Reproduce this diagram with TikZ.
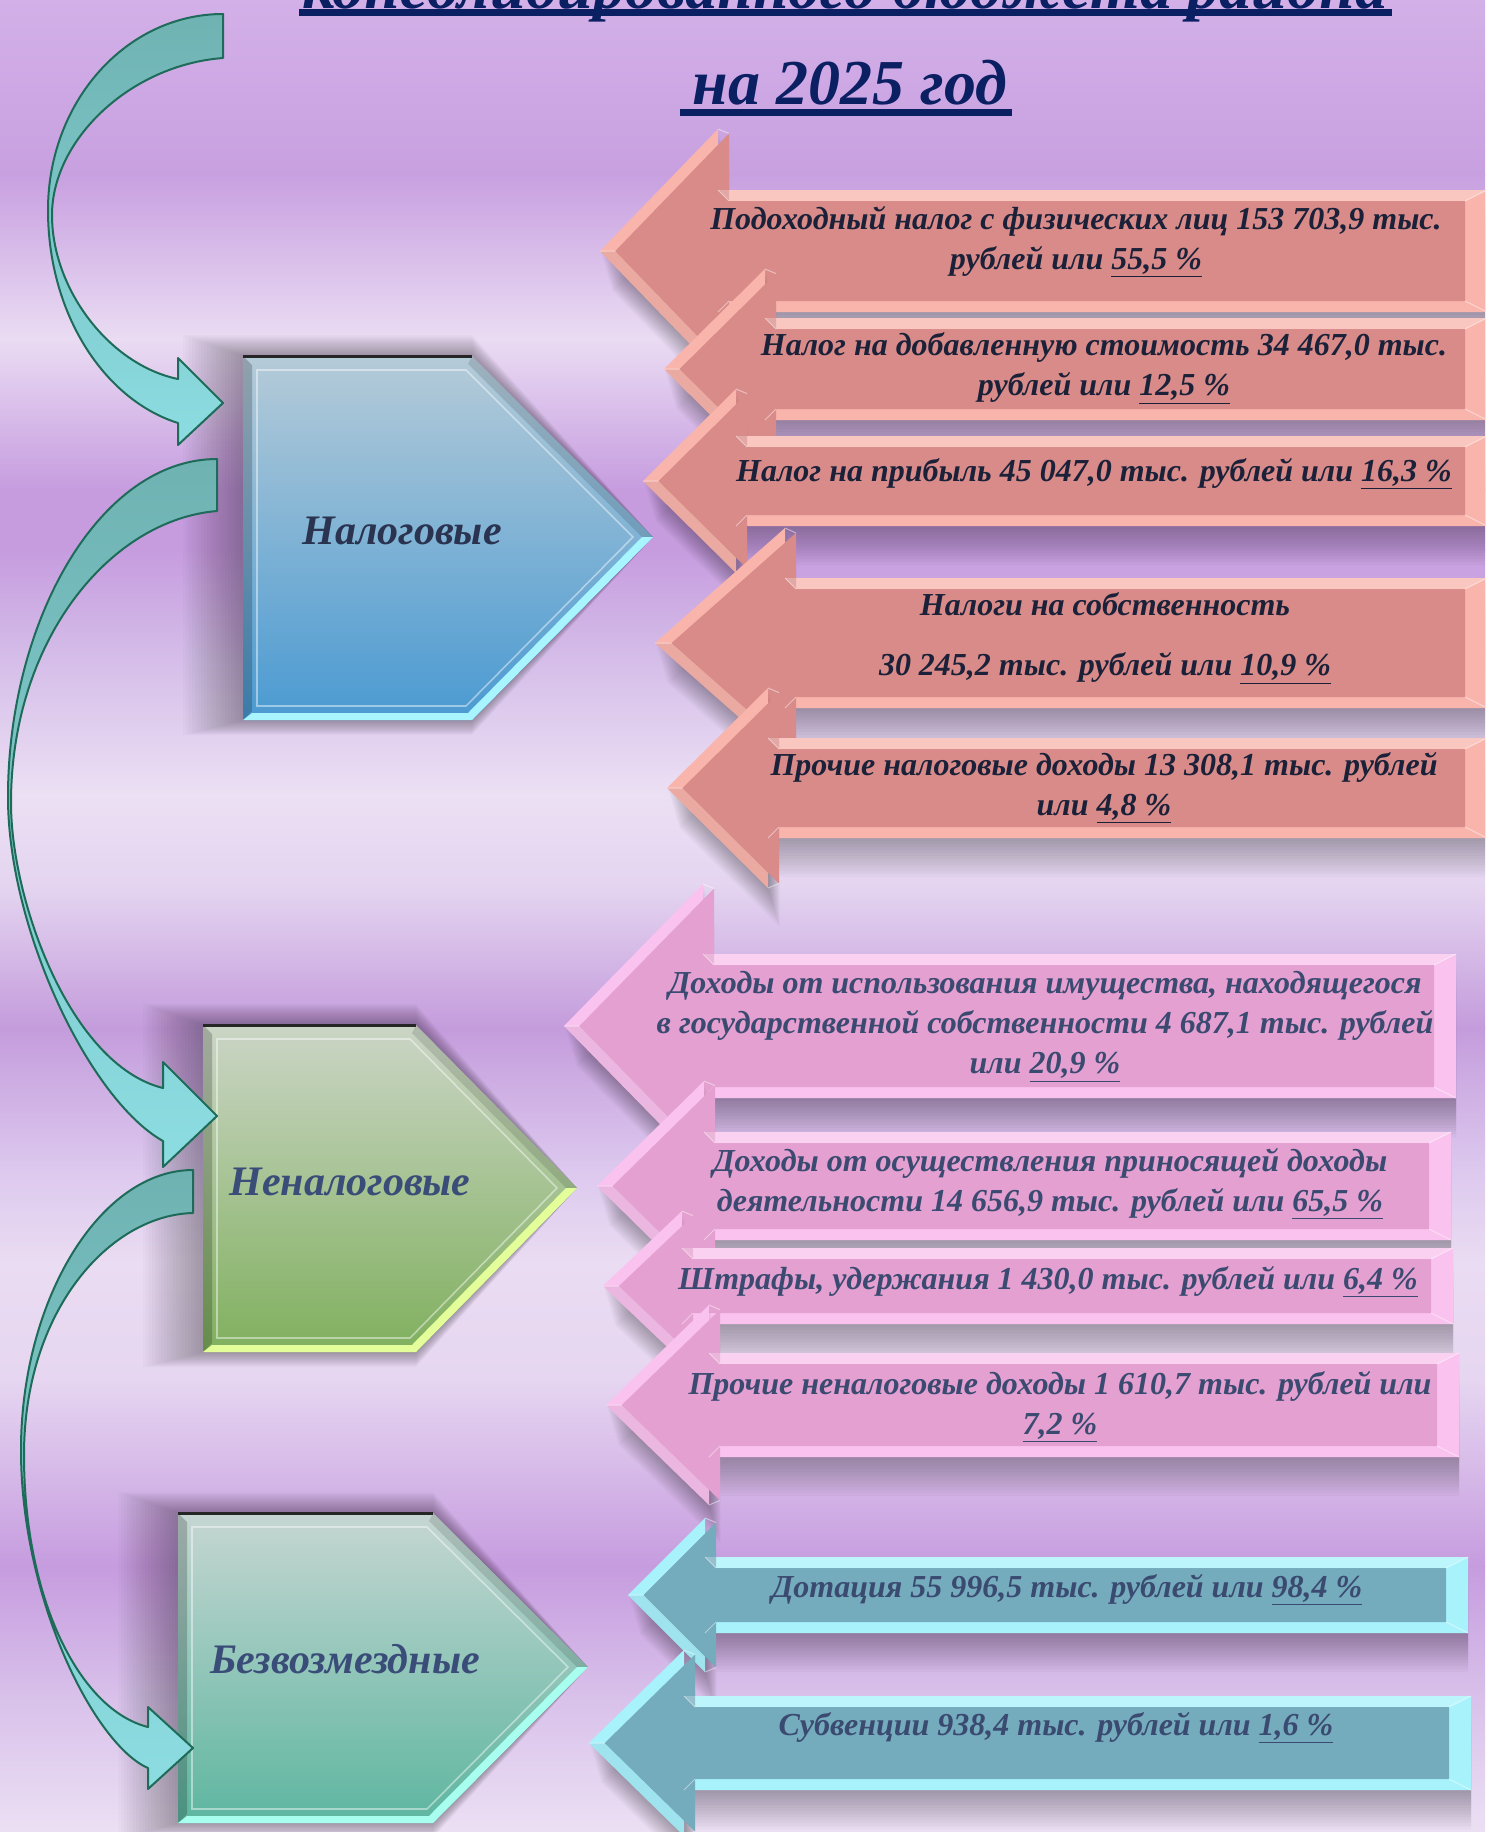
\documentclass[tikz,border=0pt]{standalone}
\usepackage{fontspec}
\setmainfont{Liberation Serif}
\definecolor{bg0}{HTML}{D3B0E8}
\definecolor{bg1}{HTML}{C8A0E0}
\definecolor{bg2}{HTML}{EADCF3}
\definecolor{bg3}{HTML}{C69CDF}
\definecolor{bg4}{HTML}{C69CDF}
\definecolor{bg5}{HTML}{D4BCE8}
\definecolor{bg6}{HTML}{ECE0F4}
\definecolor{bg7}{HTML}{E4D4F0}
\definecolor{bg8}{HTML}{C49CDC}
\definecolor{bg9}{HTML}{DCC8EE}
\definecolor{bg10}{HTML}{EADCF2}
\definecolor{bg11}{HTML}{E6D6F1}
\definecolor{bg12}{HTML}{C69CDF}
\definecolor{bg13}{HTML}{D8C0EA}
\definecolor{bg14}{HTML}{ECE0F4}
\definecolor{salLight}{HTML}{F9B4AC}
\definecolor{salMain}{HTML}{D98B89}
\definecolor{pinkLight}{HTML}{FAC2EE}
\definecolor{pinkMain}{HTML}{E4A0D0}
\definecolor{cyLight}{HTML}{A8F2FC}
\definecolor{cyMain}{HTML}{74ABBD}
\definecolor{textA}{HTML}{1B2138}
\definecolor{textB}{HTML}{3A4A70}
\definecolor{navy}{HTML}{0B1F63}
\definecolor{tealA}{HTML}{6FB2B2}
\definecolor{tealB}{HTML}{5A9A9C}
\definecolor{tealC}{HTML}{8CDDE2}
\definecolor{tealEdge}{HTML}{1F6B5A}
\definecolor{blueTop}{HTML}{B5CBD8}
\definecolor{blueBot}{HTML}{4A9AD2}
\definecolor{blueLight}{HTML}{A8F4FF}
\definecolor{greenTop}{HTML}{CBD5C6}
\definecolor{greenBot}{HTML}{80B05E}
\definecolor{greenLight}{HTML}{E4FF9A}
\definecolor{tqTop}{HTML}{C6D6D2}
\definecolor{tqBot}{HTML}{5DB6A0}
\definecolor{tqLight}{HTML}{A8FFF0}
\definecolor{lblA}{HTML}{2A3350}
\definecolor{lblB}{HTML}{3A4C78}

\tikzset{
  arrtext/.style={align=center, inner sep=0pt, font=\fontsize{16}{20}\selectfont\bfseries\itshape},
  titletext/.style={anchor=base, inner sep=0pt, text=navy, font=\fontsize{32}{38}\selectfont\bfseries\itshape},
  lbltext/.style={inner sep=0pt, font=\fontsize{21}{25}\selectfont\bfseries\itshape},
  curvarrow/.style={top color=tealA, middle color=tealB, bottom color=tealC, draw=tealEdge, line width=1pt, line join=round}
}

\newcommand\BAbevel{11}
% #1 tip x, #2 centre y, #3 head base x, #4 head half height, #5 body half height, #6 right x, #7 light, #8 main
\newcommand\blockarrow[8]{%
  \pgfmathsetmacro\BAk{#4/(#3-#1)}%
  \pgfmathsetmacro\BAs{sin(atan(\BAk))}%
  \pgfmathsetmacro\BAitx{#1+\BAbevel/\BAs}%
  \pgfmathsetmacro\BAihx{#3+\BAbevel}%
  \pgfmathsetmacro\BAihh{(\BAihx-\BAitx)*\BAk}%
  \pgfmathsetmacro\BAibh{#5-\BAbevel}%
  \pgfmathsetmacro\BAirx{#6-2*\BAbevel}%
  \foreach \BAo in {3,6,...,39}{%
    \fill[black,opacity=0.022] (#1+\BAo*0.3,#2+\BAo) -- (#3+\BAo*0.3,#2-#4+\BAo) -- (#3+\BAo*0.3,#2-#5+\BAo) -- (#6,#2-#5+\BAo) -- (#6,#2+#5+\BAo) -- (#3+\BAo*0.3,#2+#5+\BAo) -- (#3+\BAo*0.3,#2+#4+\BAo) -- cycle;}%
  \fill[#7] (#1,#2) -- (#3,#2-#4) -- (#3,#2-#5) -- (#6,#2-#5) -- (#6,#2+#5) -- (#3,#2+#5) -- (#3,#2+#4) -- cycle;
  \fill[#8] (\BAitx,#2) -- (\BAihx,#2-\BAihh) -- (\BAihx,#2-\BAibh) -- (\BAirx,#2-\BAibh) -- (\BAirx,#2+\BAibh) -- (\BAihx,#2+\BAibh) -- (\BAihx,#2+\BAihh) -- cycle;
  \fill[white,opacity=0.25] (#3,#2-#5) -- (#6,#2-#5) -- (\BAirx,#2-\BAibh) -- (\BAihx,#2-\BAibh) -- cycle;
  \fill[black,opacity=0.06] (#1,#2) -- (\BAitx,#2) -- (\BAihx,#2+\BAihh) -- (#3,#2+#4) -- cycle;
  \draw[white,opacity=0.45,line width=0.5pt] (#1,#2) -- (\BAitx,#2)
     (#6,#2-#5) -- (\BAirx,#2-\BAibh) (#6,#2+#5) -- (\BAirx,#2+\BAibh)
     (#3,#2-#5) -- (\BAihx,#2-\BAibh) (#3,#2+#5) -- (\BAihx,#2+\BAibh)
     (#3,#2-#4) -- (\BAihx,#2-\BAihh) (#3,#2+#4) -- (\BAihx,#2+\BAihh);
}
% #1 L, #2 T, #3 B, #4 corner x, #5 tip x, #6 tip y, #7 top col, #8 bottom col, #9 light edge
\newcommand\pentabox[9]{%
  \foreach \PBo in {3,6,...,60}{%
    \fill[black,opacity=0.014] (#1-\PBo,#2-\PBo*0.35) -- (#4,#2-\PBo*0.35) -- (#5,#6) -- (#4,#3+\PBo*0.25) -- (#1-\PBo,#3+\PBo*0.25) -- cycle;}%
  \shade[top color=#7, bottom color=#8] (#1,#2) -- (#4,#2) -- (#5,#6) -- (#4,#3) -- (#1,#3) -- cycle;
  \fill[black,opacity=0.2] (#1,#2) -- (#1+9,#2+9) -- (#1+9,#3-9) -- (#1,#3) -- cycle;
  \fill[black,opacity=0.12] (#4,#2) -- (#5,#6) -- (#5-11,#6) -- (#4-4,#2+8) -- cycle;
  \fill[#9] (#1,#3) -- (#1+9,#3-7) -- (#4-4,#3-7) -- (#5-11,#6) -- (#5,#6) -- (#4,#3) -- cycle;
  \draw[black!85, line width=1.5pt] (#1,#2) -- (#4,#2);
  \draw[white, opacity=0.45, line width=0.8pt] (#1+14,#2+14) -- (#4-6,#2+14) -- (#5-20,#6) -- (#4-6,#3-14) -- (#1+14,#3-14) -- cycle;
}

\begin{document}
\begin{tikzpicture}[x=0.5pt,y=-0.5pt]
\useasboundingbox (0,0) rectangle (1485,1832);
\clip (0,0) rectangle (1485,1832);
% background bands
\foreach \ya/\ca/\yb/\cb in {0/bg0/175/bg1, 175/bg1/339/bg2, 339/bg2/490/bg3, 490/bg3/550/bg4, 550/bg4/654/bg5, 654/bg5/795/bg6, 795/bg6/888/bg7, 888/bg7/1028/bg8, 1028/bg8/1168/bg9, 1168/bg9/1262/bg10, 1262/bg10/1379/bg11, 1379/bg11/1566/bg12, 1566/bg12/1694/bg13, 1694/bg13/1832/bg14}{%
  \shade[top color=\ca, bottom color=\cb] (-1,\ya-0.6) rectangle (1486,\yb+0.6);}

% title
\node[titletext] (title1) at (845,8) {консолидированного бюджета района};
\fill[navy] (299,9) rectangle (1392,16);
\node[titletext] (title2) at (850,104) {на 2025 год};
\fill[navy] (680,109) rectangle (1012,116);

% category pentagons
\pentabox{243}{356}{720}{472}{653}{537}{blueTop}{blueBot}{blueLight}
\pentabox{203}{1025}{1352}{416}{577}{1188}{greenTop}{greenBot}{greenLight}
\pentabox{178}{1513}{1823}{433}{588}{1667}{tqTop}{tqBot}{tqLight}
\node[lbltext, text=lblA] (nal) at (402,531) {Налоговые};
\node[lbltext, text=lblB] (nenal) at (350,1182) {Неналоговые};
\node[lbltext, text=lblB] (bezv) at (345,1659) {Безвозмездные};

% curved arrows
\path[curvarrow] (223,14) .. controls (126,14) and (48,102) .. (48,210)
   .. controls (48,315) and (105,400) .. (178,423) -- (178,445) -- (223,403) -- (178,358) -- (178,379)
   .. controls (110,365) and (52,290) .. (52,215) .. controls (52,140) and (130,65) .. (223,58) -- cycle;
\path[curvarrow] (217,459) .. controls (100,459) and (8,620) .. (8,797)
   .. controls (8,930) and (90,1100) .. (163,1141) -- (163,1167) -- (217,1116) -- (163,1062) -- (163,1088)
   .. controls (70,1065) and (11,900) .. (11,803) .. controls (11,640) and (110,520) .. (217,511) -- cycle;
\path[curvarrow] (193,1170) .. controls (100,1170) and (21,1300) .. (21,1450)
   .. controls (21,1600) and (95,1745) .. (148,1768) -- (148,1789) -- (193,1748) -- (148,1707) -- (148,1727)
   .. controls (80,1710) and (24,1600) .. (24,1455) .. controls (24,1310) and (110,1215) .. (193,1213) -- cycle;

% tax revenue arrows
\blockarrow{600}{251}{718}{122}{61}{1487}{salLight}{salMain}
\blockarrow{664}{369}{765}{100}{51}{1487}{salLight}{salMain}
\blockarrow{643}{481}{736}{92}{45}{1487}{salLight}{salMain}
\blockarrow{655}{643}{785}{115}{65}{1487}{salLight}{salMain}
\blockarrow{667}{788}{768}{100}{50}{1487}{salLight}{salMain}
% non-tax arrows
\blockarrow{564}{1026}{703}{142}{72}{1456}{pinkLight}{pinkMain}
\blockarrow{597}{1186}{704}{105}{54}{1451}{pinkLight}{pinkMain}
\blockarrow{603}{1286}{682}{75}{38}{1453}{pinkLight}{pinkMain}
\blockarrow{606}{1405}{709}{100}{52}{1459}{pinkLight}{pinkMain}
% gratuitous arrows
\blockarrow{628}{1595}{705}{77}{38}{1468}{cyLight}{cyMain}
\blockarrow{589}{1743}{684}{93}{47}{1471}{cyLight}{cyMain}

% texts
\node[arrtext, text=textA] (a1) at (1076,242) {Подоходный налог с физических лиц 153 703,9 тыс.\\ рублей или \underline{55,5 \%}};
\node[arrtext, text=textA] (a2) at (1104,369) {Налог на добавленную стоимость 34 467,0 тыс.\\ рублей или \underline{12,5 \%}};
\node[arrtext, text=textA] (a3) at (1094,474) {Налог на прибыль 45 047,0 тыс. рублей или \underline{16,3 \%}};
\node[arrtext, text=textA] (a4) at (1105,639) {Налоги на собственность\\[10pt] 30 245,2 тыс. рублей или \underline{10,9 \%}};
\node[arrtext, text=textA] (a5) at (1104,788) {Прочие налоговые доходы 13 308,1 тыс. рублей\\ или \underline{4,8 \%}};
\node[arrtext, text=textB] (b1) at (1045,1027) {Доходы от использования имущества, находящегося\\ в государственной собственности 4 687,1 тыс. рублей\\ или \underline{20,9 \%}};
\node[arrtext, text=textB] (b2) at (1050,1184) {Доходы от осуществления приносящей доходы\\ деятельности 14 656,9 тыс. рублей или \underline{65,5 \%}};
\node[arrtext, text=textB] (b3) at (1048,1282) {Штрафы, удержания 1 430,0 тыс. рублей или \underline{6,4 \%}};
\node[arrtext, text=textB] (b4) at (1060,1407) {Прочие неналоговые доходы 1 610,7 тыс. рублей или\\ \underline{7,2 \%}};
\node[arrtext, text=textB] (c1) at (1067,1590) {Дотация 55 996,5 тыс. рублей или \underline{98,4 \%}};
\node[arrtext, text=textB] (c2) at (1056,1728) {Субвенции 938,4 тыс. рублей или \underline{1,6 \%}};
\end{tikzpicture}
\end{document}
